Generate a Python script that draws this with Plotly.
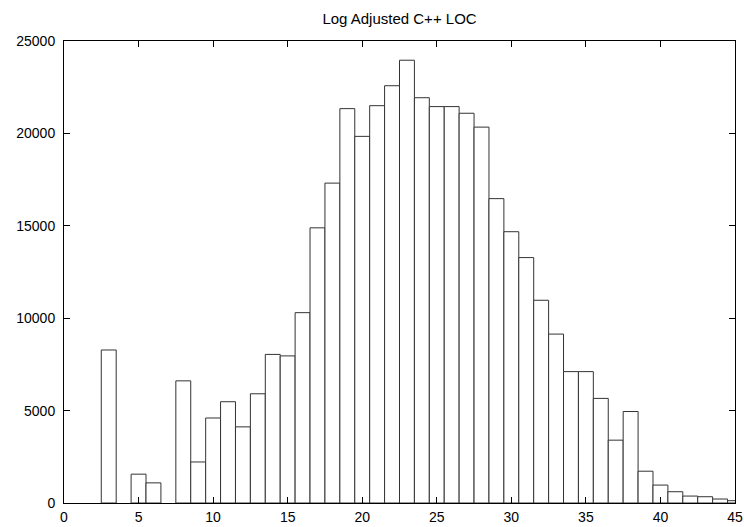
import plotly.graph_objects as go

bin_centers = [3, 5, 6, 8, 9, 10, 11, 12, 13, 14, 15, 16, 17, 18, 19, 20, 21, 22, 23, 24,
               25, 26, 27, 28, 29, 30, 31, 32, 33, 34, 35, 36, 37, 38, 39, 40, 41, 42, 43, 44, 45]
counts = [8280, 1560, 1090, 6610, 2220, 4600, 5480, 4120, 5910, 8040, 7960, 10300, 14890, 17310,
          21340, 19840, 21500, 22580, 23960, 21930, 21450, 21450, 21090, 20340, 16470, 14680,
          13280, 10970, 9140, 7110, 7110, 5660, 3400, 4950, 1720, 970, 610, 375, 340, 215, 125]
x_ticks = [0, 5, 10, 15, 20, 25, 30, 35, 40, 45]
y_ticks = [0, 5000, 10000, 15000, 20000, 25000]

FONT = "Liberation Sans, Arial, sans-serif"

fig = go.Figure(go.Bar(
    x=bin_centers, y=counts, width=1,
    marker=dict(color="white", line=dict(color="#333333", width=1)),
))

axis_common = dict(
    showline=True, linecolor="black", linewidth=1, mirror="ticks",
    ticks="inside", ticklen=6, tickcolor="black", tickwidth=1,
    showgrid=False, zeroline=False, automargin=False,
    tickfont=dict(family=FONT, size=14, color="black"),
)

fig.update_layout(
    width=744, height=527,
    margin=dict(l=64, r=9, t=41, b=24),
    paper_bgcolor="white", plot_bgcolor="white",
    showlegend=False,
    title=dict(text="Log Adjusted C++ LOC", x=0.537, xanchor="center", y=0.965, yanchor="middle",
               font=dict(family=FONT, size=15, color="black")),
    xaxis=dict(range=[0, 45], tickvals=x_ticks, ticktext=[str(v) for v in x_ticks],
               ticklabelstandoff=1, **axis_common),
    yaxis=dict(range=[0, 25000], tickvals=y_ticks, ticktext=[str(v) for v in y_ticks],
               ticklabelstandoff=5, **axis_common),
)

fig.write_html("out.html")
